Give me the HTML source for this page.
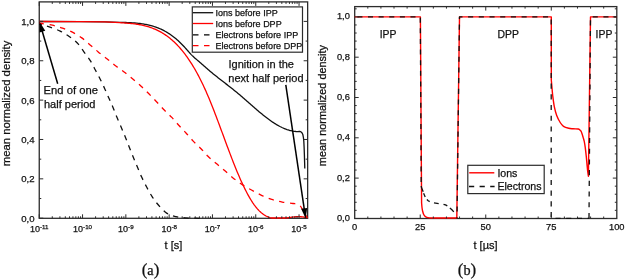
<!DOCTYPE html>
<html><head><meta charset="utf-8"><style>
html,body{margin:0;padding:0;background:#fff;}
body{width:625px;height:279px;overflow:hidden;}
svg{display:block;will-change:transform;font-family:"Liberation Sans",sans-serif;}
text{fill:#111;stroke:#111;stroke-width:0.25px;}
</style></head><body>
<svg width="625" height="279" viewBox="0 0 625 279">
<rect x="0" y="0" width="625" height="279" fill="#fff"/>
<rect x="39.25" y="1.90" width="268.40" height="216.40" fill="none" stroke="#2c2c2c" stroke-width="1.3"/>
<g fill="none" stroke-linejoin="round">
<path d="M39.20,21.50 L80.00,21.55 L105.00,21.80 L120.00,22.32 L121.00,22.35 L122.00,22.38 L123.00,22.41 L124.00,22.44 L125.00,22.48 L126.00,22.51 L127.00,22.55 L128.00,22.59 L129.00,22.64 L130.00,22.68 L131.00,22.74 L132.00,22.79 L133.00,22.86 L134.00,22.93 L135.00,23.00 L136.00,23.09 L137.00,23.18 L138.00,23.28 L139.00,23.39 L140.00,23.51 L141.00,23.64 L142.00,23.78 L143.00,23.93 L144.00,24.09 L145.00,24.27 L146.00,24.46 L147.00,24.66 L148.00,24.88 L149.00,25.11 L150.00,25.35 L151.00,25.61 L152.00,25.89 L153.00,26.19 L154.00,26.50 L155.00,26.83 L156.00,27.18 L157.00,27.54 L158.00,27.93 L159.00,28.34 L160.00,28.76 L161.00,29.21 L162.00,29.68 L163.00,30.18 L164.00,30.69 L165.00,31.23 L166.00,31.79 L167.00,32.38 L168.00,32.99 L169.00,33.63 L170.00,34.30 L171.00,34.99 L172.00,35.71 L173.00,36.45 L174.00,37.22 L175.00,38.02 L176.00,38.85 L177.00,39.71 L178.00,40.59 L179.00,41.51 L180.00,42.45 L181.00,43.42 L182.00,44.43 L183.00,45.46 L184.00,46.52 L185.00,47.61 L186.00,48.74 L187.00,49.88 L188.00,51.02 L189.00,52.16 L190.00,53.27 L191.00,54.35 L192.00,55.37 L193.00,56.33 L194.00,57.25 L195.00,58.14 L196.00,59.01 L197.00,59.87 L198.00,60.73 L199.00,61.60 L200.00,62.47 L201.00,63.35 L202.00,64.22 L203.00,65.10 L204.00,65.97 L205.00,66.85 L206.00,67.72 L207.00,68.58 L208.00,69.45 L209.00,70.30 L210.00,71.15 L211.00,71.99 L212.00,72.82 L213.00,73.65 L214.00,74.46 L215.00,75.27 L216.00,76.07 L217.00,76.86 L218.00,77.65 L219.00,78.44 L220.00,79.22 L221.00,79.99 L222.00,80.77 L223.00,81.54 L224.00,82.31 L225.00,83.09 L226.00,83.86 L227.00,84.63 L228.00,85.41 L229.00,86.18 L230.00,86.97 L231.00,87.75 L232.00,88.54 L233.00,89.34 L234.00,90.14 L235.00,90.95 L236.00,91.77 L237.00,92.59 L238.00,93.43 L239.00,94.27 L240.00,95.12 L241.00,95.97 L242.00,96.83 L243.00,97.70 L244.00,98.57 L245.00,99.44 L246.00,100.32 L247.00,101.20 L248.00,102.08 L249.00,102.96 L250.00,103.84 L251.00,104.72 L252.00,105.60 L253.00,106.47 L254.00,107.34 L255.00,108.21 L256.00,109.07 L257.00,109.93 L258.00,110.78 L259.00,111.63 L260.00,112.47 L261.00,113.30 L262.00,114.12 L263.00,114.93 L264.00,115.73 L265.00,116.52 L266.00,117.30 L267.00,118.06 L268.00,118.81 L269.00,119.55 L270.00,120.27 L271.00,120.98 L272.00,121.67 L273.00,122.35 L274.00,123.00 L275.00,123.64 L276.00,124.26 L277.00,124.86 L278.00,125.44 L279.00,125.99 L280.00,126.53 L281.00,127.04 L282.00,127.53 L283.00,127.99 L284.00,128.43 L285.00,128.84 L286.00,129.23 L287.00,129.59 L288.00,129.92 L289.00,130.23 L290.00,130.50 L291.00,130.74 L292.00,130.96 L293.00,131.14 L294.00,131.29 L295.00,131.40 L296.00,131.49 L297.00,131.54 L298.00,131.55 L299.00,131.52 L299.70,131.49 L301.00,131.90 L302.10,133.00 L302.90,134.80 L303.40,137.50 L303.80,141.00 L304.10,147.00 L304.40,155.00 L304.60,162.00 L304.80,168.50" stroke="#111" stroke-width="1.3"/>
<path d="M39.20,21.50 L80.00,21.60 L105.00,21.90 L120.00,22.71 L121.00,22.77 L122.00,22.83 L123.00,22.89 L124.00,22.96 L125.00,23.02 L126.00,23.09 L127.00,23.17 L128.00,23.24 L129.00,23.33 L130.00,23.42 L131.00,23.51 L132.00,23.61 L133.00,23.72 L134.00,23.84 L135.00,23.97 L136.00,24.10 L137.00,24.25 L138.00,24.40 L139.00,24.57 L140.00,24.75 L141.00,24.94 L142.00,25.14 L143.00,25.36 L144.00,25.59 L145.00,25.83 L146.00,26.09 L147.00,26.37 L148.00,26.66 L149.00,26.97 L150.00,27.29 L151.00,27.64 L152.00,28.00 L153.00,28.38 L154.00,28.78 L155.00,29.20 L156.00,29.64 L157.00,30.11 L158.00,30.59 L159.00,31.10 L160.00,31.63 L161.00,32.19 L162.00,32.77 L163.00,33.37 L164.00,34.00 L165.00,34.66 L166.00,35.34 L167.00,36.06 L168.00,36.79 L169.00,37.56 L170.00,38.36 L171.00,39.18 L172.00,40.04 L173.00,40.93 L174.00,41.85 L175.00,42.80 L176.00,43.78 L177.00,44.80 L178.00,45.85 L179.00,46.93 L180.00,48.05 L181.00,49.21 L182.00,50.40 L183.00,51.63 L184.00,52.89 L185.00,54.19 L186.00,55.54 L187.00,56.92 L188.00,58.34 L189.00,59.80 L190.00,61.30 L191.00,62.84 L192.00,64.43 L193.00,66.05 L194.00,67.72 L195.00,69.44 L196.00,71.20 L197.00,73.00 L198.00,74.85 L199.00,76.75 L200.00,78.69 L201.00,80.68 L202.00,82.71 L203.00,84.80 L204.00,86.93 L205.00,89.12 L206.00,91.35 L207.00,93.64 L208.00,95.97 L209.00,98.35 L210.00,100.78 L211.00,103.24 L212.00,105.74 L213.00,108.28 L214.00,110.85 L215.00,113.44 L216.00,116.06 L217.00,118.70 L218.00,121.36 L219.00,124.04 L220.00,126.73 L221.00,129.43 L222.00,132.13 L223.00,134.84 L224.00,137.55 L225.00,140.25 L226.00,142.95 L227.00,145.65 L228.00,148.32 L229.00,150.99 L230.00,153.63 L231.00,156.26 L232.00,158.86 L233.00,161.43 L234.00,163.97 L235.00,166.48 L236.00,168.95 L237.00,171.38 L238.00,173.77 L239.00,176.12 L240.00,178.41 L241.00,180.66 L242.00,182.85 L243.00,184.99 L244.00,187.08 L245.00,189.11 L246.00,191.08 L247.00,192.99 L248.00,194.84 L249.00,196.63 L250.00,198.35 L251.00,200.01 L252.00,201.59 L253.00,203.11 L254.00,204.55 L255.00,205.92 L256.00,207.22 L257.00,208.43 L258.00,209.57 L259.00,210.63 L260.00,211.60 L261.00,212.50 L262.00,213.33 L263.00,214.09 L264.00,214.77 L265.00,215.40 L266.00,215.96 L267.00,216.45 L268.00,216.90 L269.00,217.28 L270.00,217.62 L271.00,217.90 L272.00,218.00 L273.00,218.00 L274.00,218.00 L275.00,218.00 L276.00,218.00 L277.00,218.00 L278.00,218.00 L279.00,218.00 L280.00,218.00 L281.00,218.00 L282.00,218.00 L283.00,218.00 L284.00,218.00 L285.00,218.00 L286.00,218.00 L287.00,217.90 L288.00,217.76 L289.00,217.61 L290.00,217.46 L291.00,217.32 L292.00,217.19 L293.00,217.06 L294.00,216.95 L295.00,216.85 L296.00,216.77 L297.00,216.71 L298.00,216.67 L299.00,216.66 L300.00,216.68 L301.00,216.73 L302.00,216.81 L303.00,216.93 L304.00,217.08 L305.00,217.28 L306.00,217.53 L307.00,217.82 L307.60,218.00" stroke="#f00" stroke-width="1.3"/>
<path d="M39.20,24.00 C39.92,24.20 41.70,24.68 43.50,25.20 C45.30,25.72 47.22,26.12 50.00,27.10 C52.78,28.08 57.00,29.53 60.20,31.10 C63.40,32.67 66.35,34.52 69.20,36.50 C72.05,38.48 74.85,40.45 77.30,43.00 C79.75,45.55 81.73,48.85 83.90,51.80 C86.07,54.75 88.37,57.62 90.30,60.70 C92.23,63.78 93.87,67.25 95.50,70.30 C97.13,73.35 98.58,75.98 100.10,79.00 C101.62,82.02 103.17,85.27 104.60,88.40 C106.03,91.53 107.37,94.80 108.70,97.80 C110.03,100.80 111.28,103.27 112.60,106.40 C113.92,109.53 115.22,113.25 116.60,116.60 C117.98,119.95 119.47,123.13 120.90,126.50 C122.33,129.87 123.82,133.38 125.20,136.80 C126.58,140.22 127.85,143.58 129.20,147.00 C130.55,150.42 131.92,153.92 133.30,157.30 C134.68,160.68 136.07,163.92 137.50,167.30 C138.93,170.68 140.35,174.27 141.90,177.60 C143.45,180.93 145.10,184.13 146.80,187.30 C148.50,190.47 150.13,193.60 152.10,196.60 C154.07,199.60 156.12,202.50 158.60,205.30 C161.08,208.10 164.10,211.52 167.00,213.40 C169.90,215.28 173.00,215.85 176.00,216.60 C179.00,217.35 181.83,217.63 185.00,217.90 C188.17,218.17 192.50,218.13 195.00,218.20 C197.50,218.27 199.17,218.28 200.00,218.30" stroke="#111" stroke-width="1.3" stroke-dasharray="5.4 5.299" stroke-dashoffset="2.572"/>
<path d="M39.20,23.00 C39.65,23.08 39.70,23.13 41.90,23.50 C44.10,23.87 48.95,24.43 52.40,25.20 C55.85,25.97 59.27,26.93 62.60,28.10 C65.93,29.27 69.20,30.57 72.40,32.20 C75.60,33.83 78.85,35.78 81.80,37.90 C84.75,40.02 87.37,42.57 90.10,44.90 C92.83,47.23 95.35,49.55 98.20,51.90 C101.05,54.25 104.32,56.68 107.20,59.00 C110.08,61.32 112.68,63.65 115.50,65.80 C118.32,67.95 121.22,69.70 124.10,71.90 C126.98,74.10 129.97,76.62 132.80,79.00 C135.63,81.38 138.42,83.73 141.10,86.20 C143.78,88.67 146.33,91.22 148.90,93.80 C151.47,96.38 153.98,99.03 156.50,101.70 C159.02,104.37 161.45,107.18 164.00,109.80 C166.55,112.42 169.30,114.78 171.80,117.40 C174.30,120.02 176.63,122.90 179.00,125.50 C181.37,128.10 183.63,130.40 186.00,133.00 C188.37,135.60 190.70,138.48 193.20,141.10 C195.70,143.72 198.53,146.17 201.00,148.70 C203.47,151.23 205.50,153.87 208.00,156.30 C210.50,158.73 213.28,160.98 216.00,163.30 C218.72,165.62 221.47,167.77 224.30,170.20 C227.13,172.63 230.07,175.53 233.00,177.90 C235.93,180.27 238.82,182.38 241.90,184.40 C244.98,186.42 248.23,188.18 251.50,190.00 C254.77,191.82 258.13,193.73 261.50,195.30 C264.87,196.87 268.25,198.27 271.70,199.40 C275.15,200.53 278.65,201.42 282.20,202.10 C285.75,202.78 290.53,203.17 293.00,203.50 C295.47,203.83 295.77,203.67 297.00,204.10 C298.23,204.53 299.47,205.13 300.40,206.10 C301.33,207.07 301.83,208.58 302.60,209.90 C303.37,211.22 304.17,212.62 305.00,214.00 C305.83,215.38 307.17,217.50 307.60,218.20" stroke="#f00" stroke-width="1.3" stroke-dasharray="5.4 5.480" stroke-dashoffset="0.426"/>
</g>
<path d="M39.25,218.30v-4 M39.25,1.90v4 M52.28,218.30v-2 M52.28,1.90v2 M59.91,218.30v-2 M59.91,1.90v2 M65.32,218.30v-2 M65.32,1.90v2 M69.52,218.30v-2 M69.52,1.90v2 M72.94,218.30v-2 M72.94,1.90v2 M75.84,218.30v-2 M75.84,1.90v2 M78.35,218.30v-2 M78.35,1.90v2 M80.57,218.30v-2 M80.57,1.90v2 M82.55,218.30v-4 M82.55,1.90v4 M95.58,218.30v-2 M95.58,1.90v2 M103.21,218.30v-2 M103.21,1.90v2 M108.62,218.30v-2 M108.62,1.90v2 M112.82,218.30v-2 M112.82,1.90v2 M116.24,218.30v-2 M116.24,1.90v2 M119.14,218.30v-2 M119.14,1.90v2 M121.65,218.30v-2 M121.65,1.90v2 M123.87,218.30v-2 M123.87,1.90v2 M125.85,218.30v-4 M125.85,1.90v4 M138.88,218.30v-2 M138.88,1.90v2 M146.51,218.30v-2 M146.51,1.90v2 M151.92,218.30v-2 M151.92,1.90v2 M156.12,218.30v-2 M156.12,1.90v2 M159.54,218.30v-2 M159.54,1.90v2 M162.44,218.30v-2 M162.44,1.90v2 M164.95,218.30v-2 M164.95,1.90v2 M167.17,218.30v-2 M167.17,1.90v2 M169.15,218.30v-4 M169.15,1.90v4 M182.18,218.30v-2 M182.18,1.90v2 M189.81,218.30v-2 M189.81,1.90v2 M195.22,218.30v-2 M195.22,1.90v2 M199.42,218.30v-2 M199.42,1.90v2 M202.84,218.30v-2 M202.84,1.90v2 M205.74,218.30v-2 M205.74,1.90v2 M208.25,218.30v-2 M208.25,1.90v2 M210.47,218.30v-2 M210.47,1.90v2 M212.45,218.30v-4 M212.45,1.90v4 M225.48,218.30v-2 M225.48,1.90v2 M233.11,218.30v-2 M233.11,1.90v2 M238.52,218.30v-2 M238.52,1.90v2 M242.72,218.30v-2 M242.72,1.90v2 M246.14,218.30v-2 M246.14,1.90v2 M249.04,218.30v-2 M249.04,1.90v2 M251.55,218.30v-2 M251.55,1.90v2 M253.77,218.30v-2 M253.77,1.90v2 M255.75,218.30v-4 M255.75,1.90v4 M268.78,218.30v-2 M268.78,1.90v2 M276.41,218.30v-2 M276.41,1.90v2 M281.82,218.30v-2 M281.82,1.90v2 M286.02,218.30v-2 M286.02,1.90v2 M289.44,218.30v-2 M289.44,1.90v2 M292.34,218.30v-2 M292.34,1.90v2 M294.85,218.30v-2 M294.85,1.90v2 M297.07,218.30v-2 M297.07,1.90v2 M299.05,218.30v-4 M299.05,1.90v4 M39.25,218.20h4 M307.65,218.20h-4 M39.25,198.52h2 M307.65,198.52h-2 M39.25,178.84h4 M307.65,178.84h-4 M39.25,159.16h2 M307.65,159.16h-2 M39.25,139.48h4 M307.65,139.48h-4 M39.25,119.80h2 M307.65,119.80h-2 M39.25,100.12h4 M307.65,100.12h-4 M39.25,80.44h2 M307.65,80.44h-2 M39.25,60.76h4 M307.65,60.76h-4 M39.25,41.08h2 M307.65,41.08h-2 M39.25,21.40h4 M307.65,21.40h-4" stroke="#2c2c2c" stroke-width="1" fill="none"/>
<text x="34.6" y="221.60" font-size="9.6" text-anchor="end">0,0</text>
<text x="34.6" y="182.24" font-size="9.6" text-anchor="end">0,2</text>
<text x="34.6" y="142.88" font-size="9.6" text-anchor="end">0,4</text>
<text x="34.6" y="103.52" font-size="9.6" text-anchor="end">0,6</text>
<text x="34.6" y="64.16" font-size="9.6" text-anchor="end">0,8</text>
<text x="34.6" y="24.80" font-size="9.6" text-anchor="end">1,0</text>
<text x="39.25" y="232.2" font-size="9" text-anchor="middle">10<tspan font-size="6.2" dy="-3.4">-11</tspan></text>
<text x="82.55" y="232.2" font-size="9" text-anchor="middle">10<tspan font-size="6.2" dy="-3.4">-10</tspan></text>
<text x="125.85" y="232.2" font-size="9" text-anchor="middle">10<tspan font-size="6.2" dy="-3.4">-9</tspan></text>
<text x="169.15" y="232.2" font-size="9" text-anchor="middle">10<tspan font-size="6.2" dy="-3.4">-8</tspan></text>
<text x="212.45" y="232.2" font-size="9" text-anchor="middle">10<tspan font-size="6.2" dy="-3.4">-7</tspan></text>
<text x="255.75" y="232.2" font-size="9" text-anchor="middle">10<tspan font-size="6.2" dy="-3.4">-6</tspan></text>
<text x="299.05" y="232.2" font-size="9" text-anchor="middle">10<tspan font-size="6.2" dy="-3.4">-5</tspan></text>
<text x="173.4" y="248.8" font-size="11" text-anchor="middle">t [s]</text>
<text transform="translate(9.9,103.4) rotate(-90)" font-size="11.3" text-anchor="middle">mean normalized density</text>
<rect x="192.3" y="6.9" width="110.2" height="45.3" fill="#fff" stroke="#2c2c2c" stroke-width="1.2"/>
<path d="M192.8,12.70H213.2" stroke="#111" stroke-width="1.3"/>
<path d="M192.8,23.50H213.2" stroke="#f00" stroke-width="1.3"/>
<path d="M193,34.80H213.2" stroke="#000" stroke-width="1.3" stroke-dasharray="5.5 5.5"/>
<path d="M193,45.70H213.2" stroke="#f00" stroke-width="1.3" stroke-dasharray="5.5 5.5"/>
<text x="215.6" y="16.40" font-size="9">Ions before IPP</text>
<text x="215.6" y="27.10" font-size="9">Ions before DPP</text>
<text x="215.6" y="38.10" font-size="9">Electrons before IPP</text>
<text x="215.6" y="48.80" font-size="9">Electrons before DPP</text>
<text x="43.6" y="93.6" font-size="11" textLength="54.3" lengthAdjust="spacingAndGlyphs">End of one</text>
<text x="44.0" y="107.6" font-size="11">half period</text>
<text x="228.5" y="68.4" font-size="11">Ignition in the</text>
<text x="228.3" y="81.9" font-size="11">next half period</text>
<path d="M57.70,83.80L42.08,30.71" stroke="#000" stroke-width="1.50"/><path d="M39.40,21.60L45.24,30.83L39.49,32.52Z" fill="#000"/>
<path d="M285.80,84.80L304.30,209.40" stroke="#000" stroke-width="1.50"/><path d="M305.70,218.80L301.19,208.85L307.13,207.97Z" fill="#000"/>
<text x="150.5" y="274.6" font-family="Liberation Serif" font-size="14.2" text-anchor="middle"><tspan font-size="17">(</tspan>a<tspan font-size="17">)</tspan></text>
<rect x="354.70" y="6.60" width="262.10" height="211.90" fill="none" stroke="#2c2c2c" stroke-width="1.3"/>
<g fill="none" stroke-linejoin="round">
<path d="M354.70,16.90 H420.4 L421.6,203.0 C421.67,203.75 421.83,206.17 422.00,207.50 C422.17,208.83 422.33,209.88 422.60,211.00 C422.87,212.12 423.20,213.32 423.60,214.20 C424.00,215.08 424.47,215.77 425.00,216.30 C425.53,216.83 426.05,217.13 426.80,217.40 C427.55,217.67 428.63,217.80 429.50,217.90 C430.37,218.00 431.58,217.98 432.00,218.00 H456.8 L459.5,16.90 H551.3 V80 C551.42,81.33 551.77,85.42 552.00,88.00 C552.23,90.58 552.32,92.40 552.70,95.50 C553.08,98.60 553.63,103.27 554.30,106.60 C554.97,109.93 555.72,112.85 556.70,115.50 C557.68,118.15 559.07,120.70 560.20,122.50 C561.33,124.30 562.08,125.33 563.50,126.30 C564.92,127.27 567.12,127.88 568.70,128.30 C570.28,128.72 571.42,128.68 573.00,128.80 C574.58,128.92 577.10,128.85 578.20,129.00 C579.30,129.15 579.13,129.33 579.60,129.70 C580.07,130.07 580.58,130.48 581.00,131.20 C581.42,131.92 581.73,132.93 582.10,134.00 C582.47,135.07 582.85,136.40 583.20,137.60 C583.55,138.80 583.87,139.60 584.20,141.20 C584.53,142.80 584.87,144.77 585.20,147.20 C585.53,149.63 585.90,152.93 586.20,155.80 C586.50,158.67 586.75,161.78 587.00,164.40 C587.25,167.02 587.47,169.53 587.70,171.50 C587.93,173.47 588.28,175.42 588.40,176.20 L590.5,16.90 H616.80" stroke="#f00" stroke-width="1.4"/>
<path d="M354.70,16.90 H420.3 L421.2,186.0" stroke="#111" stroke-width="1.3" stroke-dasharray="5.05 5.57" stroke-dashoffset="7.94"/>
<path d="M421.2,186.0 L421.5,187.6 L421.9,188.6 L423.2,191.7 M423.6,193.3 L425.2,197.0 M426.9,199.5 L428.2,200.8 L429.7,201.6 M434.0,202.9 L438.7,203.6 M443.5,204.3 L445.5,204.9 L447.3,205.9 M449.9,208.0 L451.9,209.8 L453.8,211.9" stroke="#111" stroke-width="1.3"/>
<path d="M457.0,218.4 L459.5,16.90 H551.2 V218.4 H589.0" stroke="#111" stroke-width="1.3" stroke-dasharray="5.1 5.6" stroke-dashoffset="3.9"/>
<path d="M589.0,218.4 L590.5,16.90 H616.80" stroke="#111" stroke-width="1.3" stroke-dasharray="5.1 5.6" stroke-dashoffset="10.3"/>
</g>
<path d="M367.81,218.50v-2 M367.81,6.60v2 M380.91,218.50v-2 M380.91,6.60v2 M394.01,218.50v-2 M394.01,6.60v2 M407.12,218.50v-2 M407.12,6.60v2 M420.23,218.50v-4 M420.23,6.60v4 M433.33,218.50v-2 M433.33,6.60v2 M446.44,218.50v-2 M446.44,6.60v2 M459.54,218.50v-2 M459.54,6.60v2 M472.64,218.50v-2 M472.64,6.60v2 M485.75,218.50v-4 M485.75,6.60v4 M498.86,218.50v-2 M498.86,6.60v2 M511.96,218.50v-2 M511.96,6.60v2 M525.07,218.50v-2 M525.07,6.60v2 M538.17,218.50v-2 M538.17,6.60v2 M551.27,218.50v-4 M551.27,6.60v4 M564.38,218.50v-2 M564.38,6.60v2 M577.49,218.50v-2 M577.49,6.60v2 M590.59,218.50v-2 M590.59,6.60v2 M603.69,218.50v-2 M603.69,6.60v2 M354.70,210.34h2 M616.80,210.34h-2 M354.70,202.28h2 M616.80,202.28h-2 M354.70,194.22h2 M616.80,194.22h-2 M354.70,186.16h2 M616.80,186.16h-2 M354.70,178.10h4 M616.80,178.10h-4 M354.70,170.04h2 M616.80,170.04h-2 M354.70,161.98h2 M616.80,161.98h-2 M354.70,153.92h2 M616.80,153.92h-2 M354.70,145.86h2 M616.80,145.86h-2 M354.70,137.80h4 M616.80,137.80h-4 M354.70,129.74h2 M616.80,129.74h-2 M354.70,121.68h2 M616.80,121.68h-2 M354.70,113.62h2 M616.80,113.62h-2 M354.70,105.56h2 M616.80,105.56h-2 M354.70,97.50h4 M616.80,97.50h-4 M354.70,89.44h2 M616.80,89.44h-2 M354.70,81.38h2 M616.80,81.38h-2 M354.70,73.32h2 M616.80,73.32h-2 M354.70,65.26h2 M616.80,65.26h-2 M354.70,57.20h4 M616.80,57.20h-4 M354.70,49.14h2 M616.80,49.14h-2 M354.70,41.08h2 M616.80,41.08h-2 M354.70,33.02h2 M616.80,33.02h-2 M354.70,24.96h2 M616.80,24.96h-2 M354.70,16.90h4 M616.80,16.90h-4 M354.70,8.84h2 M616.80,8.84h-2" stroke="#2c2c2c" stroke-width="1" fill="none"/>
<text x="349.9" y="220.90" font-size="9.3" text-anchor="end">0,0</text>
<text x="349.9" y="180.60" font-size="9.3" text-anchor="end">0,2</text>
<text x="349.9" y="140.30" font-size="9.3" text-anchor="end">0,4</text>
<text x="349.9" y="100.00" font-size="9.3" text-anchor="end">0,6</text>
<text x="349.9" y="59.70" font-size="9.3" text-anchor="end">0,8</text>
<text x="349.9" y="19.40" font-size="9.3" text-anchor="end">1,0</text>
<text x="354.70" y="230.3" font-size="9.3" text-anchor="middle">0</text>
<text x="420.23" y="230.3" font-size="9.3" text-anchor="middle">25</text>
<text x="485.75" y="230.3" font-size="9.3" text-anchor="middle">50</text>
<text x="551.27" y="230.3" font-size="9.3" text-anchor="middle">75</text>
<text x="616.80" y="230.3" font-size="9.3" text-anchor="middle">100</text>
<text x="485.5" y="249.2" font-size="11" text-anchor="middle">t [&#181;s]</text>
<text transform="translate(326,105.6) rotate(-90)" font-size="10.9" text-anchor="middle">mean normalized density</text>
<text x="379.7" y="37.7" font-size="10.4">IPP</text>
<text x="497.6" y="37.7" font-size="10.4">DPP</text>
<text x="595.6" y="37.7" font-size="10.4">IPP</text>
<rect x="467.8" y="165.3" width="76.4" height="28.3" fill="#fff" stroke="#2c2c2c" stroke-width="1.2"/>
<path d="M469.2,172.8H494.3" stroke="#f00" stroke-width="1.4"/>
<path d="M469.0,186.5H494.6" stroke="#111" stroke-width="1.3" stroke-dasharray="5.2 5.4"/>
<text x="497.4" y="176.6" font-size="10.6">Ions</text>
<text x="497.4" y="189.7" font-size="10.6">Electrons</text>
<text x="467" y="274.6" font-family="Liberation Serif" font-size="14.2" text-anchor="middle"><tspan font-size="17">(</tspan>b<tspan font-size="17">)</tspan></text>
</svg>
</body></html>
